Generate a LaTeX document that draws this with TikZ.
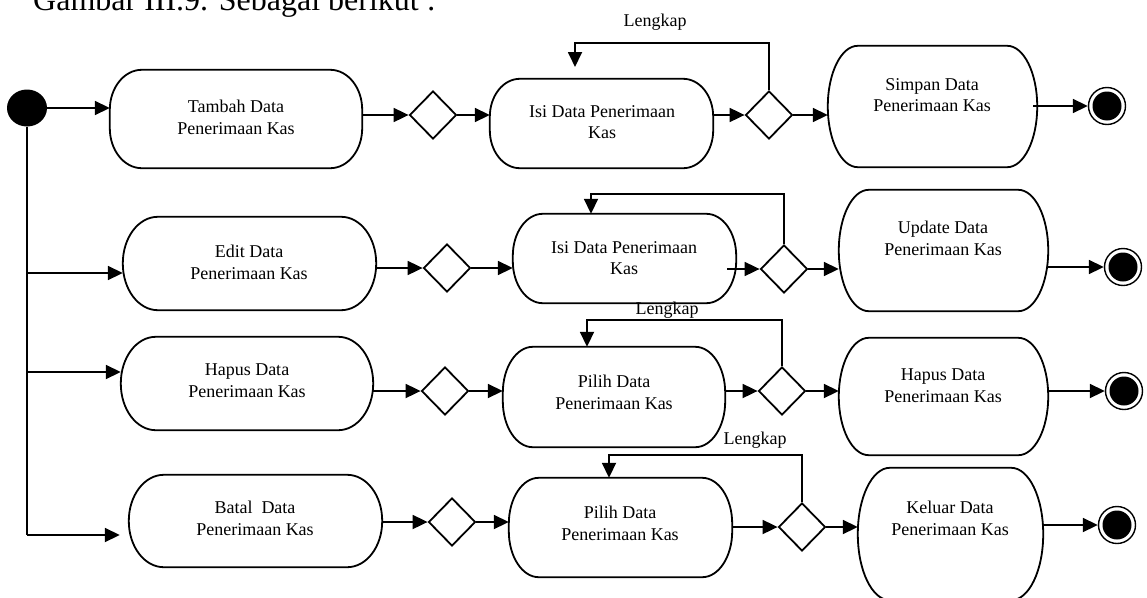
\documentclass[tikz,border=0pt]{standalone}
\usepackage{fontspec}
\setmainfont{Liberation Serif}
\usetikzlibrary{arrows.meta,shapes.geometric}

% Activity box: an invisible sized node plus an outline with elliptical corners
% #1 name, #2 cx, #3 cy, #4 width, #5 height, #6 corner x radius, #7 corner y radius
\newcommand\actbox[7]{%
  \node[actarea, minimum width=#4pt, minimum height=#5pt] (#1) at (#2,#3) {};
  \draw[ln] ([xshift=#6pt]#1.north west) -- ([xshift=-#6pt]#1.north east)
    arc[start angle=90, end angle=0, x radius=#6pt, y radius=#7pt]
    -- ([yshift=#7pt]#1.south east)
    arc[start angle=0, end angle=-90, x radius=#6pt, y radius=#7pt]
    -- ([xshift=#6pt]#1.south west)
    arc[start angle=270, end angle=180, x radius=#6pt, y radius=#7pt]
    -- ([yshift=-#7pt]#1.north west)
    arc[start angle=180, end angle=90, x radius=#6pt, y radius=#7pt]
    -- cycle;
}

\tikzset{
  ln/.style={line width=1.8pt},
  arr/.style={ln, -{Triangle[length=15pt,width=14pt]}},
  actarea/.style={draw=none, inner sep=0pt},
  decision/.style={diamond, draw, ln, minimum width=47pt, minimum height=48pt, inner sep=0pt},
  startdot/.style={ellipse, fill=black, minimum width=40pt, minimum height=37pt, inner sep=0pt},
  enddot/.style={circle, draw, line width=1.4pt, minimum size=37pt, inner sep=0pt,
    path picture={\fill (path picture bounding box.center) circle (14.5pt);}},
  lbl/.style={font=\fontsize{18}{21.7}\selectfont, align=center, inner sep=0pt},
}

\begin{document}
\begin{tikzpicture}[x=1pt, y=-1pt]
\useasboundingbox (0,0) rectangle (1147,597);

% heading
\node[anchor=base west, inner sep=0pt, font=\fontsize{32}{38}\selectfont] (title) at (33,10)
  {Gambar III.9. Sebagai berikut :};

% start
\node[startdot] (s) at (27,108) {};

% row 1: tambah
\actbox{b1}{236}{119}{252}{98}{32}{40}
\node[lbl] (b1t) at (236,117) {Tambah Data\\Penerimaan Kas};
\node[decision] (d11) at (433,115) {};
\actbox{b2}{601.5}{123.5}{223}{89}{30}{38}
\node[lbl] (b2t) at (602,122) {Isi Data Penerimaan\\Kas};
\node[decision] (d12) at (769,115) {};
\actbox{b3}{932.5}{106.5}{209}{121}{30}{60.5}
\node[lbl] (b3t) at (932,95) {Simpan Data\\Penerimaan Kas};
\node[enddot] (f1) at (1107,106) {};

% row 2: edit
\actbox{e1}{249.5}{263.5}{253}{93}{35}{46.5}
\node[lbl] (e1t) at (249,262) {Edit Data\\Penerimaan Kas};
\node[decision] (d21) at (447,268) {};
\actbox{e2}{624.5}{258.5}{223}{89}{30}{42}
\node[lbl] (e2t) at (624,258) {Isi Data Penerimaan\\Kas};
\node[decision] (d22) at (784,269) {};
\actbox{e3}{943.5}{250.5}{209}{121}{30}{60.5}
\node[lbl] (e3t) at (943,238) {Update Data\\Penerimaan Kas};
\node[enddot] (f2) at (1123,267) {};

% row 3: hapus
\actbox{h1}{247}{383.5}{252}{93}{35}{46.5}
\node[lbl] (h1t) at (247,381) {Hapus Data\\Penerimaan Kas};
\node[decision] (d31) at (445,391) {};
\actbox{h2}{614}{397}{222}{100}{30}{46}
\node[lbl] (h2t) at (614,392) {Pilih Data\\Penerimaan Kas};
\node[decision] (d32) at (782,391) {};
\actbox{h3}{943.5}{396.5}{209}{117}{30}{58.5}
\node[lbl] (h3t) at (943,386) {Hapus Data\\Penerimaan Kas};
\node[enddot] (f3) at (1124,391) {};

% row 4: batal
\actbox{k1}{255.5}{521}{253}{92}{35}{46}
\node[lbl] (k1t) at (255,518) {Batal~ Data\\Penerimaan Kas};
\node[decision] (d41) at (452,522) {};
\actbox{k2}{620.5}{527.5}{223}{99}{30}{46}
\node[lbl] (k2t) at (620,523) {Pilih Data\\Penerimaan Kas};
\node[decision] (d42) at (802,527) {};
\actbox{k3}{950.5}{534}{185}{132}{32}{66}
\node[lbl] (k3t) at (950,518) {Keluar Data\\Penerimaan Kas};
\node[enddot] (f4) at (1117,525) {};

% loop labels
\node[lbl, anchor=base] (g1) at (655,26) {Lengkap};
\node[lbl, anchor=base] (g3) at (667,314) {Lengkap};
\node[lbl, anchor=base] (g4) at (755,444) {Lengkap};

% branching trunk from the start
\coordinate (j2) at (27,273);
\coordinate (j3) at (27,372);
\coordinate (j4) at (27,535);
\draw[ln] (s.south) -- (j4);
\draw[arr] (s.east) -- (b1.west |- s.east);
\draw[arr] (j2) -- (e1.west |- j2);
\draw[arr] (j3) -- (h1.west |- j3);
\draw[arr] (j4) -- ([xshift=-9pt]k1.west |- j4);

% row 1 flow
\draw[arr] (b1.east |- d11) -- (d11.west);
\draw[arr] (d11.east) -- (b2.west |- d11);
\draw[arr] (b2.east |- d12) -- (d12.west);
\draw[arr] (d12.east) -- (b3.west |- d12);
\draw[arr] ([xshift=-4pt]b3.east |- f1) -- (f1.west);
\coordinate (l1) at (575,43);
\coordinate (l1a) at (575,67);
\draw[arr] (d12.north) |- (l1) -- (l1a);

% row 2 flow
\draw[arr] (e1.east |- d21) -- (d21.west);
\draw[arr] (d21.east) -- (e2.west |- d21);
\draw[arr] ([xshift=-9pt]e2.east |- d22) -- (d22.west);
\draw[arr] (d22.east) -- (e3.west |- d22);
\draw[arr] (e3.east |- f2) -- (f2.west);
\coordinate (l2) at (591,194);
\draw[arr] (d22.north) |- (l2) -- (l2 |- e2.north);

% row 3 flow
\draw[arr] (h1.east |- d31) -- (d31.west);
\draw[arr] (d31.east) -- (h2.west |- d31);
\draw[arr] (h2.east |- d32) -- (d32.west);
\draw[arr] (d32.east) -- (h3.west |- d32);
\draw[arr] (h3.east |- f3) -- (f3.west);
\coordinate (l3) at (587,320);
\draw[arr] (d32.north) |- (l3) -- (l3 |- h2.north);

% row 4 flow
\draw[arr] (k1.east |- d41) -- (d41.west);
\draw[arr] (d41.east) -- (k2.west |- d41);
\draw[arr] (k2.east |- d42) -- (d42.west);
\draw[arr] (d42.east) -- (k3.west |- d42);
\draw[arr] (k3.east |- f4) -- (f4.west);
\coordinate (l4) at (609,455);
\draw[arr] (d42.north) |- (l4) -- (l4 |- k2.north);
\end{tikzpicture}
\end{document}
